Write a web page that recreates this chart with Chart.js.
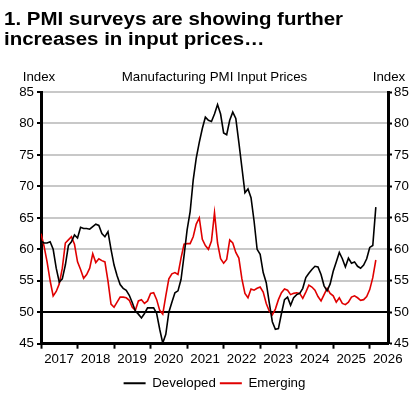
<!DOCTYPE html>
<html>
<head>
<meta charset="utf-8">
<script src="https://cdn.jsdelivr.net/npm/chart.js@4.4.1/dist/chart.umd.min.js"></script>
<style>
    html, body { margin: 0; padding: 0; background: #fff; }
    #wrap { position: relative; width: 418px; height: 397px; }
    #chart { position: absolute; left: 0; top: 0; }
    #title {
        position: absolute; left: 4px; top: 9px; margin: 0;
        font: bold 17.5px/20px "Liberation Sans", Arial, sans-serif;
        white-space: nowrap; color: #000;
        transform: scaleX(1.17); transform-origin: left top;
    }
</style>
</head>
<body>
<div id="wrap">
    <canvas id="chart" width="418" height="397"></canvas>
    <h1 id="title">1. PMI surveys are showing further<br>increases in input prices…</h1>
</div>
<script>
/* global Chart */

// monthly, Jan 2017 onwards
const years = ['2017', '2018', '2019', '2020', '2021', '2022', '2023', '2024', '2025', '2026'];
const yTicks = [45, 50, 55, 60, 65, 70, 75, 80, 85];

const developed = [
    61.3, 61.0, 61.0, 61.2, 60.0, 57.0, 54.8, 55.3, 57.5, 60.6, 61.2, 62.3,
    61.8, 63.5, 63.3, 63.3, 63.2, 63.6, 64.0, 63.8, 62.5, 62.0, 62.8, 60.0,
    57.5, 55.8, 54.4, 53.8, 53.5, 52.7, 51.5, 50.2, 49.7, 49.1, 49.8, 50.7,
    50.7, 50.7, 49.8, 47.3, 45.1, 46.5, 50.0, 51.6, 53.1, 53.4, 55.2, 59.0,
    63.1, 66.0, 71.0, 74.5, 77.0, 79.2, 81.0, 80.5, 80.3, 81.5, 83.0, 81.5,
    78.5, 78.2, 80.5, 81.8, 80.8, 77.0, 73.0, 69.0, 69.6, 68.2, 64.5, 60.0,
    59.2, 56.3, 54.7, 51.5, 48.5, 47.3, 47.4, 49.8, 52.0, 52.4, 51.1, 52.3,
    52.8, 53.0, 53.8, 55.5, 56.2, 56.8, 57.3, 57.2, 56.0, 54.2, 53.4, 54.5,
    56.5, 58.0, 59.5, 58.5, 57.2, 58.6, 57.8, 58.0, 57.3, 57.0, 57.5, 58.5,
    60.3, 60.6, 66.7
];

const emerging = [
    62.5, 60.5, 58.0, 55.0, 52.6, 53.3, 54.5, 57.0, 61.0, 61.5, 62.0, 60.8,
    58.0, 56.8, 55.4, 56.0, 57.0, 59.3, 57.9, 58.5, 58.2, 58.0, 55.0, 51.3,
    50.8, 51.6, 52.4, 52.4, 52.3, 51.9, 50.8, 50.3, 51.8, 52.0, 51.4, 51.8,
    53.0, 53.1, 52.0, 50.3, 49.7, 52.6, 55.3, 56.1, 56.3, 56.0, 58.6, 60.8,
    60.9, 60.9, 62.0, 64.0, 65.0, 61.6, 60.6, 60.0, 61.3, 65.8, 61.0, 58.5,
    57.8, 58.4, 61.5, 61.0, 59.5, 58.6, 55.3, 53.0, 52.3, 53.7, 53.5, 53.8,
    54.0, 53.2, 51.4, 50.2, 49.6, 50.5, 52.0, 53.1, 53.7, 53.5, 52.8, 53.0,
    53.1, 53.0, 52.2, 53.2, 54.3, 54.0, 53.5, 52.5, 51.8, 52.8, 53.8, 53.0,
    52.6, 51.6, 52.3, 51.4, 51.2, 51.6, 52.4, 52.6, 52.3, 51.9, 52.0, 52.5,
    53.6, 55.5, 58.3
];

function pickFont() {
    const c = document.createElement('canvas').getContext('2d');
    c.font = '16px "Liberation Sans Narrow"';
    const narrow = c.measureText('Manufacturing PMI').width;
    c.font = '16px "Liberation Sans"';
    const regular = c.measureText('Manufacturing PMI').width;
    if (narrow < regular * 0.9) {
        return { family: '"Liberation Sans Narrow"', size: 16 };
    }
    return { family: '"Liberation Sans", Arial, sans-serif', size: 13.3 };
}

const font = pickFont();
const tickFont = { family: font.family, size: font.size };

const toPoints = values => values.map((v, i) => ({ x: i, y: v }));
const setYTicks = scale => { scale.ticks = yTicks.map(v => ({ value: v })); };

const headerLabels = {
    id: 'headerLabels',
    afterDraw(chart) {
        const { ctx, chartArea } = chart;
        ctx.save();
        ctx.font = `${font.size}px ${font.family}`;
        ctx.fillStyle = '#000';
        ctx.textAlign = 'center';
        ctx.textBaseline = 'alphabetic';
        ctx.fillText('Index', chartArea.left - 2, 81);
        ctx.fillText('Manufacturing PMI Input Prices', (chartArea.left + chartArea.right) / 2, 81);
        ctx.fillText('Index', chartArea.right + 1, 81);
        ctx.restore();
    },
};

new Chart(document.getElementById('chart'), {
    type: 'line',
    data: {
        datasets: [
            {
                label: 'Developed',
                data: toPoints(developed),
                borderColor: '#000',
                backgroundColor: '#000',
                borderWidth: 1.6,
                pointRadius: 0,
                yAxisID: 'y',
            },
            {
                label: 'Emerging',
                data: toPoints(emerging),
                borderColor: '#e00000',
                backgroundColor: '#e00000',
                borderWidth: 1.6,
                pointRadius: 0,
                yAxisID: 'y',
            },
        ],
    },
    options: {
        responsive: false,
        animation: false,
        devicePixelRatio: 1,
        layout: { padding: { top: 92, bottom: -3, left: 0, right: 0 } },
        plugins: {
            tooltip: { enabled: false },
            legend: {
                position: 'bottom',
                fullSize: false,
                labels: {
                    boxWidth: 22,
                    boxHeight: 2,
                    padding: 4,
                    color: '#000',
                    font: tickFont,
                    generateLabels: chart => Chart.defaults.plugins.legend.labels
                        .generateLabels(chart)
                        .map(item => ({ ...item, lineWidth: 0 })),
                },
            },
        },
        scales: {
            x: {
                type: 'linear',
                min: 0,
                max: 114,
                afterBuildTicks: scale => { scale.ticks = years.map((y, i) => ({ value: i * 12 })); },
                afterFit: scale => { scale.height = 29; },
                grid: { drawOnChartArea: false, tickLength: 5, tickColor: '#000', tickWidth: 2 },
                border: { color: '#000', width: 3 },
                ticks: {
                    color: '#000',
                    font: tickFont,
                    padding: 3,
                    labelOffset: 18,
                    maxRotation: 0,
                    autoSkip: false,
                    callback: (value, index) => years[index],
                },
            },
            y: {
                position: 'left',
                min: 45,
                max: 85,
                afterBuildTicks: setYTicks,
                afterFit: scale => { scale.width = 41; },
                grid: {
                    color: c => (c.tick && (c.tick.value === 50 || c.tick.value === 45)) ? '#000' : '#c8c8c8',
                    lineWidth: 2,
                    tickLength: 4,
                    tickColor: '#000',
                    tickWidth: 2,
                },
                border: { color: '#000', width: 3 },
                ticks: { color: '#000', font: tickFont, padding: 3 },
            },
            y1: {
                position: 'right',
                min: 45,
                max: 85,
                afterBuildTicks: setYTicks,
                afterFit: scale => { scale.width = 30; },
                grid: { drawOnChartArea: false, tickLength: 4, tickColor: '#000', tickWidth: 2 },
                border: { color: '#000', width: 3 },
                ticks: { color: '#000', font: tickFont, padding: 2 },
            },
        },
    },
    plugins: [headerLabels],
});
</script>
</body>
</html>
